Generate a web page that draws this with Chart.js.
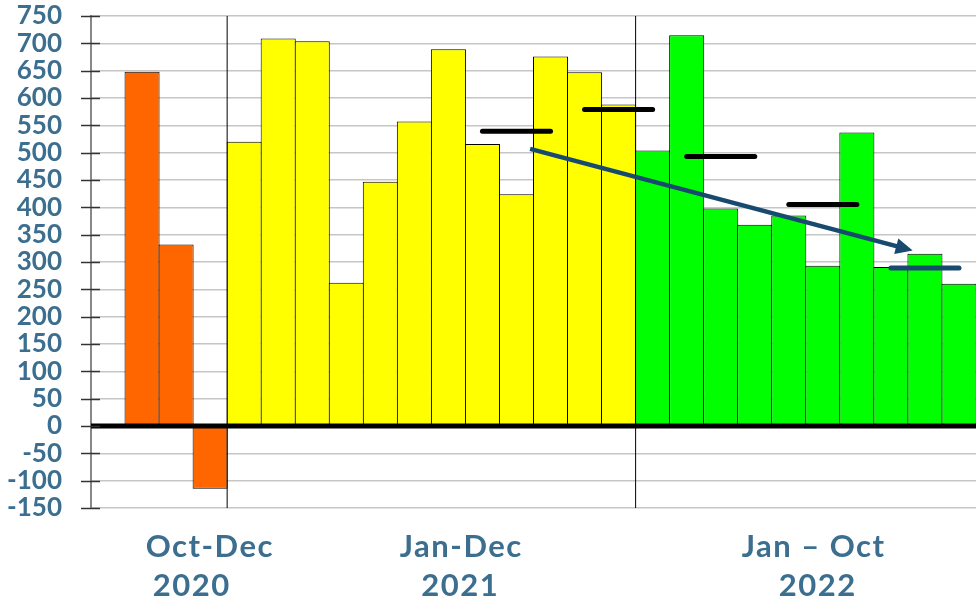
<!DOCTYPE html>
<html>
<head>
<meta charset="utf-8">
<script src="https://cdn.jsdelivr.net/npm/chart.js@4.4.1/dist/chart.umd.min.js"></script>
<style>
  html, body { margin: 0; padding: 0; background: #ffffff; }
  #wrap { position: relative; width: 976px; height: 605px; }
</style>
</head>
<body>
<div id="wrap"><canvas id="c"></canvas></div>
<script>
// ---------- data ----------
const categories = ['',
  'Oct 2020', 'Nov 2020', 'Dec 2020',
  'Jan 2021', 'Feb 2021', 'Mar 2021', 'Apr 2021', 'May 2021', 'Jun 2021',
  'Jul 2021', 'Aug 2021', 'Sep 2021', 'Oct 2021', 'Nov 2021', 'Dec 2021',
  'Jan 2022', 'Feb 2022', 'Mar 2022', 'Apr 2022', 'May 2022', 'Jun 2022',
  'Jul 2022', 'Aug 2022', 'Sep 2022', 'Oct 2022'];
const values2020 = [648, 332, -115];
const values2021 = [520, 709, 704, 262, 447, 557, 689, 516, 424, 676, 647, 588];
const values2022 = [504, 715, 398, 368, 385, 293, 537, 291, 315, 260];
const avgMonths = ['Sep 2021', 'Dec 2021', 'Mar 2022', 'Jun 2022', 'Sep 2022'];
const avgValues = [539, 579, 493, 405, 289];
const trendIndex = [12.4, 23.64];
const trendValues = [507, 321];
const yTicks = { min: -150, max: 750, step: 50 };
const groupLabels = [['Oct-Dec', '2020'], ['Jan-Dec', '2021'], ['Jan \u2013 Oct', '2022']];

// ---------- styling ----------
const COL_2020 = '#FF6600', COL_2021 = '#FFFF00', COL_2022 = '#00FF00';
const LABEL_COL = '#3B6E8F';
const TREND_COL = '#174A6E';
const groupLabelPos = [[2.96, 2.43], [10.35, 10.32], [20.7, 20.82]];

const barData = [null].concat(values2020, values2021, values2022);
const barColors = [null].concat(values2020.map(() => COL_2020), values2021.map(() => COL_2021), values2022.map(() => COL_2022));

const lineBase = { type: 'line', xAxisID: 'x2', yAxisID: 'y', pointRadius: 0, fill: false, tension: 0 };
const datasets = [];
datasets.push({ type: 'bar', xAxisID: 'x', yAxisID: 'y', data: barData, backgroundColor: barColors, borderColor: '#000', borderWidth: 1,
  borderSkipped: 'start', grouped: false, categoryPercentage: 1, barPercentage: 1.03, order: 100 });
// separators between years
[3.5, 15.5].forEach(xv => datasets.push(Object.assign({}, lineBase, {
  data: [{ x: xv, y: yTicks.min }, { x: xv, y: yTicks.max }], borderColor: '#000', borderWidth: 1, order: 50 })));
// zero line
datasets.push(Object.assign({}, lineBase, {
  data: [{ x: -0.5, y: 0 }, { x: 25.5, y: 0 }], borderColor: '#000', borderWidth: 5, order: 10 }));
// average markers
avgMonths.forEach((m, i) => {
  const idx = categories.indexOf(m);
  datasets.push(Object.assign({}, lineBase, {
    data: [{ x: idx - 1, y: avgValues[i] }, { x: idx + 1, y: avgValues[i] }],
    borderColor: i === avgMonths.length - 1 ? TREND_COL : '#000', borderWidth: 5, borderCapStyle: 'round', order: 5 }));
});
// trend arrow (drawn by plugin from parsed points)
datasets.push(Object.assign({}, lineBase, {
  data: trendIndex.map((xv, i) => ({ x: xv, y: trendValues[i] })),
  showLine: false, borderColor: TREND_COL, order: 1 }));
const trendDatasetIndex = datasets.length - 1;

const arrowPlugin = {
  id: 'arrow',
  afterDatasetsDraw(chart) {
    const meta = chart.getDatasetMeta(trendDatasetIndex);
    const p0 = meta.data[0], p1 = meta.data[1];
    const ctx = chart.ctx;
    const ang = Math.atan2(p1.y - p0.y, p1.x - p0.x);
    const headLen = 17, headHalf = 8;
    const bx = p1.x - headLen * Math.cos(ang), by = p1.y - headLen * Math.sin(ang);
    ctx.save();
    ctx.strokeStyle = TREND_COL; ctx.fillStyle = TREND_COL; ctx.lineWidth = 4.5;
    ctx.beginPath(); ctx.moveTo(p0.x, p0.y); ctx.lineTo(bx + 2 * Math.cos(ang), by + 2 * Math.sin(ang)); ctx.stroke();
    ctx.beginPath();
    ctx.moveTo(p1.x, p1.y);
    ctx.lineTo(bx + headHalf * Math.sin(ang), by - headHalf * Math.cos(ang));
    ctx.lineTo(bx - headHalf * Math.sin(ang), by + headHalf * Math.cos(ang));
    ctx.closePath(); ctx.fill();
    ctx.restore();
  }
};

const tickMarkPlugin = {
  id: 'tickMarks',
  afterDraw(chart) {
    const y = chart.scales.y, ctx = chart.ctx, left = chart.chartArea.left;
    ctx.save();
    ctx.strokeStyle = '#333'; ctx.lineWidth = 1.5;
    y.ticks.forEach(t => {
      const py = Math.round(y.getPixelForValue(t.value)) + 0.5;
      ctx.beginPath(); ctx.moveTo(left - 10, py); ctx.lineTo(left + 9, py); ctx.stroke();
    });
    ctx.restore();
  }
};

const groupLabelPlugin = {
  id: 'groupLabels',
  afterDraw(chart) {
    const x2 = chart.scales.x2, ctx = chart.ctx, bottom = chart.chartArea.bottom;
    ctx.save();
    ctx.fillStyle = LABEL_COL;
    ctx.font = 'bold 31px Lato, "Open Sans", sans-serif';
    try { ctx.letterSpacing = '1.5px'; } catch (e) {}
    ctx.textAlign = 'center'; ctx.textBaseline = 'alphabetic';
    groupLabels.forEach((lines, i) => {
      lines.forEach((txt, j) => {
        ctx.fillText(txt, x2.getPixelForValue(groupLabelPos[i][j]) + 1, bottom + 49 + j * 39);
      });
    });
    ctx.restore();
  }
};

new Chart(document.getElementById('c'), {
  type: 'bar',
  data: { labels: categories, datasets: datasets },
  options: {
    responsive: true, maintainAspectRatio: false, animation: false,
    layout: { autoPadding: false, padding: { top: 16, bottom: 97, left: 0, right: 0 } },
    plugins: { legend: { display: false }, tooltip: { enabled: false } },
    scales: {
      x: { type: 'category', display: false, offset: true, position: 'bottom' },
      x2: { type: 'linear', display: false, offset: false, min: -0.5, max: 25.5, position: 'bottom',
            grid: { offset: false } },
      y: {
        position: 'left',
        min: yTicks.min, max: yTicks.max,
        afterFit(scale) { scale.width = 91; },
        border: { display: true, color: '#888', width: 2 },
        grid: { drawTicks: true, tickLength: 29, tickColor: 'rgba(0,0,0,0)',
                color: ctx => ctx.tick && ctx.tick.value === 0 ? 'rgba(0,0,0,0)' : '#c6c6c6', lineWidth: 1.5 },
        ticks: { stepSize: yTicks.step, autoSkip: false, padding: 0, color: LABEL_COL,
                 font: { family: 'Lato', weight: 'bold', size: 26 } }
      }
    }
  },
  plugins: [arrowPlugin, tickMarkPlugin, groupLabelPlugin]
});
</script>
</body>
</html>
